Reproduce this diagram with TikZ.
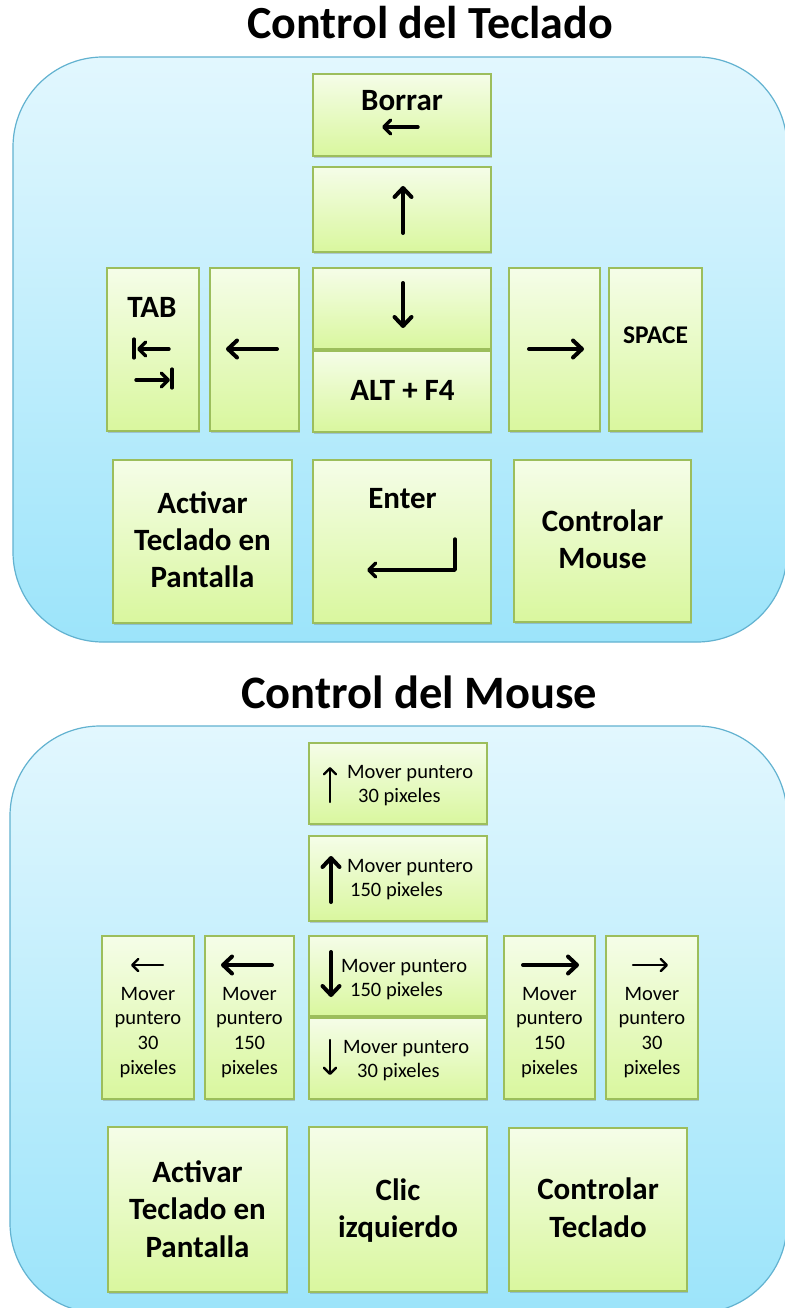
\documentclass[tikz,border=0pt]{standalone}
\usepackage{fontspec}
\setmainfont{Carlito}
\usetikzlibrary{arrows.meta,shadows}

\definecolor{panelTop}{RGB}{226,247,254}
\definecolor{panelBot}{RGB}{156,228,250}
\definecolor{panelEdge}{RGB}{98,178,208}
\definecolor{keyTop}{RGB}{245,253,232}
\definecolor{keyBot}{RGB}{217,247,158}
\definecolor{keyEdge}{RGB}{156,190,92}

\tikzset{
  panel/.style={draw=panelEdge, line width=1.2pt, top color=panelTop,
    bottom color=panelBot, rounded corners=90pt},
  key/.style={rectangle, draw=keyEdge, line width=1.2pt, top color=keyTop,
    bottom color=keyBot, inner sep=0pt,
    drop shadow={shadow xshift=1.2pt, shadow yshift=-1.6pt, opacity=0.3, fill=black!60}},
  title/.style={font=\fontsize{46}{54}\selectfont\bfseries, anchor=base, inner sep=0pt},
  bold/.style={font=\fontsize{31}{37}\selectfont\bfseries, inner sep=0pt, align=center},
  small/.style={font=\fontsize{20.5}{24.7}\selectfont, inner sep=0pt},
  bigarrow/.style={line width=4pt, line cap=round,
    -{Straight Barb[length=9pt,width=17pt,line cap=round,line join=round]}},
  midarrow/.style={line width=3.4pt, line cap=round,
    -{Straight Barb[length=7pt,width=14pt,line cap=round,line join=round]}},
  thinarrow/.style={line width=2.4pt, line cap=round,
    -{Straight Barb[length=6pt,width=12pt,line cap=round,line join=round]}},
  bar/.style={line width=3.2pt, line cap=round},
}

\begin{document}
\begin{tikzpicture}[x=1pt, y=-1pt]
\useasboundingbox (0,0) rectangle (784,1308);
\fill[white] (0,0) rectangle (784,1308);

% ---------------- keyboard panel ----------------
\node[title] (t1) at (430,39) {Control del Teclado};
\path[panel] (13,57) rectangle (787,642);

\node[key, minimum width=178pt, minimum height=82pt]  (borrar) at (402,115) {};
\node[key, minimum width=178pt, minimum height=85pt]  (kup) at (402,209.5) {};
\node[key, minimum width=92pt,  minimum height=163pt] (ktab) at (153,349.5) {};
\node[key, minimum width=89pt,  minimum height=163pt] (kleft) at (254.5,349.5) {};
\node[key, minimum width=178pt, minimum height=81pt]  (kdown) at (402,308.5) {};
\node[key, minimum width=178pt, minimum height=81pt]  (kalt) at (402,391.5) {};
\node[key, minimum width=91pt,  minimum height=163pt] (kright) at (554.5,349.5) {};
\node[key, minimum width=93pt,  minimum height=163pt] (kspace) at (655.5,349.5) {};
\node[key, minimum width=179pt, minimum height=163pt] (kosk) at (202.5,541.5) {};
\node[key, minimum width=178pt, minimum height=163pt] (kenter) at (402,541.5) {};
\node[key, minimum width=177pt, minimum height=162pt] (kmouse) at (602.5,541) {};

\node[bold, anchor=base] (lborrar) at (402,111) {Borrar};
\draw[midarrow] (418,127) -- (382,127);
\draw[bigarrow] (403,233) -- (403,186);
\draw[bigarrow] (403,283) -- (403,328);
\draw[bigarrow] (277,349) -- (226,349);
\draw[bigarrow] (529,349) -- (584,349);

\node[bold, anchor=base] (ltab) at (152,317) {TAB};
\draw[bar] (134,339) -- (134,358);
\draw[midarrow] (169,349) -- (137,349);
\draw[midarrow] (136,380) -- (170,380);
\draw[bar] (172,369) -- (172,388);

\node[bold, anchor=base, font=\fontsize{25.5}{30}\selectfont\bfseries] (lspace) at (655.5,343) {SPACE};
\node[bold, anchor=base] (lalt) at (402.5,400) {ALT + F4};
\node[bold, anchor=base] (lenter) at (402.5,508) {Enter};
\draw[midarrow, line join=round] (455,539) -- (455,570) -- (367,570);

\node[bold, anchor=north] (losk) at (202.5,483)
  {\rule{0pt}{30pt}Activar\\Teclado en\\Pantalla};
\node[bold, anchor=north] (lmouse) at (602.5,501)
  {\rule{0pt}{30pt}Controlar\\Mouse};

% ---------------- mouse panel ----------------
\node[title, font=\fontsize{46.5}{54}\selectfont\bfseries] (t2) at (419,708) {Control del Mouse};
\path[panel] (10,726) rectangle (787,1313);

\node[key, minimum width=178pt, minimum height=81pt]  (mup30) at (398,783.5) {};
\node[key, minimum width=178pt, minimum height=85pt]  (mup150) at (398,878.5) {};
\node[key, minimum width=92pt,  minimum height=163pt] (mleft30) at (148,1017.5) {};
\node[key, minimum width=89pt,  minimum height=163pt] (mleft150) at (249.5,1017.5) {};
\node[key, minimum width=178pt, minimum height=80pt]  (mdown150) at (398,976) {};
\node[key, minimum width=178pt, minimum height=81pt]  (mdown30) at (398,1058.5) {};
\node[key, minimum width=91pt,  minimum height=163pt] (mright150) at (549.5,1017.5) {};
\node[key, minimum width=92pt,  minimum height=163pt] (mright30) at (652,1017.5) {};
\node[key, minimum width=179pt, minimum height=165pt] (mosk) at (197.5,1209.5) {};
\node[key, minimum width=178pt, minimum height=165pt] (mclic) at (398,1209.5) {};
\node[key, minimum width=178pt, minimum height=163pt] (mkbd) at (598,1209.5) {};

\draw[thinarrow] (330,802) -- (330,767);
\node[small, align=left, anchor=north west] (lup30) at (347,758)
  {\rule{0pt}{20pt}Mover puntero\\\hspace*{11pt}30 pixeles};
\draw[bigarrow] (331,902) -- (331,856);
\node[small, align=left, anchor=north west] (lup150) at (347,852)
  {\rule{0pt}{20pt}Mover puntero\\\hspace*{3pt}150 pixeles};
\draw[bigarrow] (331,952) -- (331,997);
\node[small, align=left, anchor=north west] (ldown150) at (341,952)
  {\rule{0pt}{20pt}Mover puntero\\\hspace*{9pt}150 pixeles};
\draw[thinarrow] (330,1040) -- (330,1075);
\node[small, align=left, anchor=north west] (ldown30) at (343,1033)
  {\rule{0pt}{20pt}Mover puntero\\\hspace*{14pt}30 pixeles};

\draw[thinarrow] (163,965) -- (131,965);
\node[small, align=center, anchor=north] (lleft30) at (148,980)
  {\rule{0pt}{20pt}Mover\\puntero\\30\\pixeles};
\draw[bigarrow] (272,965) -- (221,965);
\node[small, align=center, anchor=north] (lleft150) at (249.5,980)
  {\rule{0pt}{20pt}Mover\\puntero\\150\\pixeles};
\draw[bigarrow] (523,965) -- (579,965);
\node[small, align=center, anchor=north] (lright150) at (549.5,980)
  {\rule{0pt}{20pt}Mover\\puntero\\150\\pixeles};
\draw[thinarrow] (633,965) -- (668,965);
\node[small, align=center, anchor=north] (lright30) at (652,980)
  {\rule{0pt}{20pt}Mover\\puntero\\30\\pixeles};

\node[bold, anchor=north, font=\fontsize{31}{37.5}\selectfont\bfseries] (losk2) at (197.5,1152)
  {\rule{0pt}{30pt}Activar\\Teclado en\\Pantalla};
\node[bold, anchor=north] (lclic) at (398,1170)
  {\rule{0pt}{30pt}Clic\\izquierdo};
\node[bold, anchor=north, font=\fontsize{31}{38}\selectfont\bfseries] (lkbd) at (598,1169)
  {\rule{0pt}{30pt}Controlar\\Teclado};
\end{tikzpicture}
\end{document}
